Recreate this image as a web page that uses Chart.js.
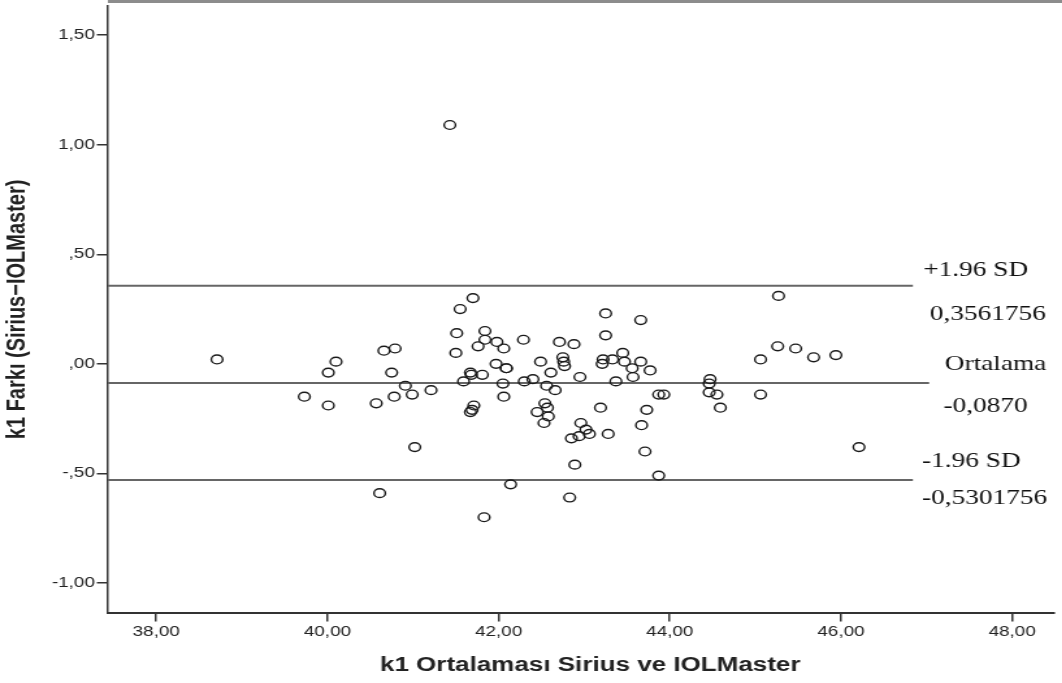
<!DOCTYPE html>
<html>
<head>
<meta charset="utf-8">
<script src="https://cdn.jsdelivr.net/npm/chart.js@4.4.1/dist/chart.umd.min.js"></script>
<style>
    html, body { margin: 0; padding: 0; background: #fff; overflow: hidden; }
    /* the reference is stretched sideways, so the canvas is too */
    #chart { display: block; transform: scaleX(1.3); transform-origin: 0 0; }
</style>
</head>
<body>
<canvas id="chart" width="817" height="683"></canvas>
<script>
// k1 ortalamasi (x) ve k1 farki (y)
const xMeans = [
    38.71, 39.73, 40.01, 40.01, 40.10, 40.57, 40.66, 40.79, 40.75, 40.91,
    40.78, 40.99, 41.21, 41.02, 40.61, 41.70, 41.55, 41.51, 41.50, 41.76,
    41.67, 41.68, 41.59, 41.43, 41.84, 41.84, 41.98, 42.06, 42.29, 41.97,
    42.09, 42.09, 41.81, 42.05, 42.30, 42.40, 42.06, 41.71, 41.69, 41.67,
    42.49, 42.61, 42.56, 42.66, 42.71, 42.88, 42.75, 42.76, 42.77, 42.95,
    42.54, 42.57, 42.45, 42.58, 42.53, 42.96, 43.02, 43.06, 42.94, 42.85,
    43.28, 43.19, 42.89, 42.14, 42.83, 41.83, 43.25, 43.25, 43.22, 43.21,
    43.33, 43.45, 43.47, 43.56, 43.57, 43.66, 43.77, 43.37, 43.66, 43.87,
    43.93, 43.73, 43.67, 43.71, 43.87, 44.47, 44.46, 44.46, 44.55, 44.59,
    45.27, 45.06, 45.06, 45.26, 45.47, 45.68, 45.94, 46.21
];
const yDiffs = [
    0.02, -0.15, -0.19, -0.04, 0.01, -0.18, 0.06, 0.07, -0.04, -0.10,
    -0.15, -0.14, -0.12, -0.38, -0.59, 0.30, 0.25, 0.14, 0.05, 0.08,
    -0.04, -0.05, -0.08, 1.09, 0.15, 0.11, 0.10, 0.07, 0.11, 0.00,
    -0.02, -0.02, -0.05, -0.09, -0.08, -0.07, -0.15, -0.19, -0.21, -0.22,
    0.01, -0.04, -0.10, -0.12, 0.10, 0.09, 0.03, 0.01, -0.01, -0.06,
    -0.18, -0.20, -0.22, -0.24, -0.27, -0.27, -0.30, -0.32, -0.33, -0.34,
    -0.32, -0.20, -0.46, -0.55, -0.61, -0.70, 0.23, 0.13, 0.02, 0.00,
    0.02, 0.05, 0.01, -0.02, -0.06, 0.01, -0.03, -0.08, 0.20, -0.14,
    -0.14, -0.21, -0.28, -0.40, -0.51, -0.07, -0.09, -0.13, -0.14, -0.20,
    0.31, 0.02, -0.14, 0.08, 0.07, 0.03, 0.04, -0.38
];

// Ortalama ve +/-1.96 SD sinirlari
const meanDiff = -0.0870;
const upperLoA = 0.3561756;
const lowerLoA = -0.5301756;
const loaLineEndX = 46.84;
const meanLineEndX = 47.03;

const refTexts = [
    ['+1.96 SD', '0,3561756'],
    ['Ortalama', '-0,0870'],
    ['-1.96 SD', '-0,5301756']
];

const xTitle = 'k1 Ortalaması Sirius ve IOLMaster';
const yTitle = 'k1 Farkı (Sirius\u2212IOLMaster)';

const xTickValues = [38, 40, 42, 44, 46, 48];
const xTickLabels = ['38,00', '40,00', '42,00', '44,00', '46,00', '48,00'];
const yTickValues = [-1, -0.5, 0, 0.5, 1, 1.5];
const yTickLabels = ['-1,00', '-,50', ',00', ',50', '1,00', '1,50'];

const xMin = 37.435, xMax = 48.495;
const yMin = -1.137, yMax = 1.634;

const sansFont = "'Liberation Sans', Arial, sans-serif";
const serifFont = "'Liberation Serif', 'Times New Roman', serif";

const points = xMeans.map((x, i) => ({ x: x, y: yDiffs[i] }));

function refLine(value, endX) {
    return {
        type: 'line',
        data: [{ x: xMin, y: value }, { x: endX, y: value }],
        borderColor: '#666666',
        borderWidth: 2,
        pointRadius: 0,
        fill: false
    };
}

// ust cerceve, x basligi ve sinir etiketleri
const extrasPlugin = {
    id: 'extras',
    afterDraw(chart) {
        const ctx = chart.ctx;
        const area = chart.chartArea;
        const xs = chart.scales.x;
        const ys = chart.scales.y;

        ctx.save();
        ctx.strokeStyle = '#8c8c8c';
        ctx.lineWidth = 3;
        ctx.beginPath();
        ctx.moveTo(area.left, 1.5);
        ctx.lineTo(chart.width, 1.5);
        ctx.stroke();

        ctx.fillStyle = '#222';
        ctx.font = 'bold 20px ' + sansFont;
        ctx.textAlign = 'center';
        ctx.textBaseline = 'middle';
        ctx.fillText(xTitle, 454, 665);

        ctx.fillStyle = '#111';
        ctx.font = '21px ' + serifFont;
        ctx.textAlign = 'left';

        const loaEnd = xs.getPixelForValue(loaLineEndX);
        const meanEnd = xs.getPixelForValue(meanLineEndX);
        const yUp = ys.getPixelForValue(upperLoA);
        const yMean = ys.getPixelForValue(meanDiff);
        const yLow = ys.getPixelForValue(lowerLoA);

        ctx.fillText(refTexts[0][0], loaEnd + 8, yUp - 15);
        ctx.fillText(refTexts[0][1], loaEnd + 13, yUp + 29);
        ctx.fillText(refTexts[1][0], meanEnd + 12, yMean - 18);
        ctx.fillText(refTexts[1][1], meanEnd + 11, yMean + 24);
        ctx.fillText(refTexts[2][0], loaEnd + 7, yLow - 19);
        ctx.fillText(refTexts[2][1], loaEnd + 7, yLow + 18);
        ctx.restore();
    }
};

const ctx = document.getElementById('chart').getContext('2d');

new Chart(ctx, {
    type: 'scatter',
    data: {
        datasets: [
            {
                data: points,
                pointRadius: 4.4,
                pointBorderWidth: 1.4,
                borderColor: '#1a1a1a',
                backgroundColor: 'rgba(0,0,0,0)',
                pointStyle: 'circle'
            },
            refLine(upperLoA, loaLineEndX),
            refLine(meanDiff, meanLineEndX),
            refLine(lowerLoA, loaLineEndX)
        ]
    },
    options: {
        responsive: false,
        animation: false,
        events: [],
        layout: { padding: { top: 2, left: 0, right: 0, bottom: 0 } },
        plugins: {
            legend: { display: false },
            tooltip: { enabled: false }
        },
        scales: {
            x: {
                type: 'linear',
                min: xMin,
                max: xMax,
                afterBuildTicks: scale => {
                    scale.ticks = xTickValues.map(v => ({ value: v }));
                },
                afterFit: scale => {
                    scale.height = 70;
                    scale.paddingLeft = 0;
                    scale.paddingRight = 0;
                },
                ticks: {
                    callback: (value, index) => xTickLabels[index],
                    color: '#222',
                    font: { family: sansFont, size: 14.5 },
                    padding: 2,
                    maxRotation: 0
                },
                grid: {
                    drawOnChartArea: false,
                    drawTicks: true,
                    tickLength: 8.5,
                    color: '#333',
                    lineWidth: 1.5
                },
                border: { display: true, color: '#333', width: 2 }
            },
            y: {
                type: 'linear',
                min: yMin,
                max: yMax,
                afterBuildTicks: scale => {
                    scale.ticks = yTickValues.map(v => ({ value: v }));
                },
                afterFit: scale => {
                    scale.width = 83;
                    scale.paddingTop = 0;
                    scale.paddingBottom = 0;
                },
                ticks: {
                    callback: (value, index) => yTickLabels[index],
                    color: '#222',
                    font: { family: sansFont, size: 14.5 },
                    padding: 1.5
                },
                grid: {
                    drawOnChartArea: false,
                    drawTicks: true,
                    tickLength: 8.5,
                    color: '#333',
                    lineWidth: 1.5
                },
                border: { display: true, color: '#333', width: 1.5 },
                title: {
                    display: true,
                    text: yTitle,
                    color: '#222',
                    font: { family: sansFont, size: 20, weight: 'bold' },
                    padding: { top: 1, bottom: 0 }
                }
            }
        }
    },
    plugins: [extrasPlugin]
});
</script>
</body>
</html>
